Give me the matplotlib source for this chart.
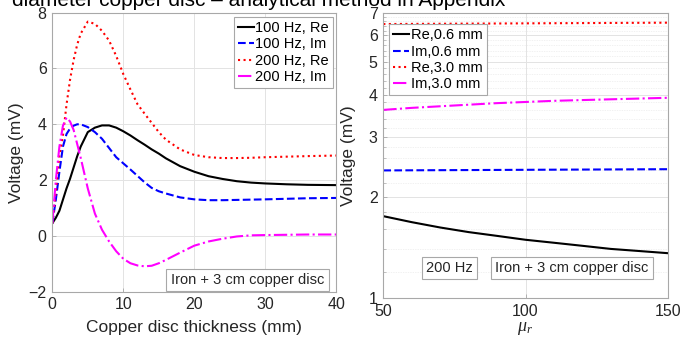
import numpy as np
import matplotlib
matplotlib.use('Agg')
from matplotlib import pyplot as plt
from matplotlib.ticker import FixedLocator, FixedFormatter, NullFormatter

plt.rcParams['font.family'] = ['Liberation Sans', 'DejaVu Sans']
plt.rcParams['mathtext.fontset'] = 'custom'
plt.rcParams['mathtext.it'] = 'Liberation Serif:italic'

# copper disc thickness sweep (mm)
thickness = [0, 0.5, 1, 1.5, 2, 2.5, 3, 3.5, 4, 5, 6, 7, 8, 9, 10, 11, 12, 13, 14,
             15, 16, 18, 20, 22, 24, 26, 28, 30, 33, 36, 40]
re_100 = [0.45, 0.65, 0.9, 1.3, 1.7, 2.05, 2.45, 2.85, 3.2, 3.72, 3.88, 3.96, 3.96, 3.88,
          3.75, 3.6, 3.43, 3.27, 3.1, 2.95, 2.78, 2.5, 2.3, 2.14, 2.04, 1.96, 1.91, 1.88,
          1.85, 1.83, 1.82]
im_100 = [0.45, 1.3, 2.3, 3.2, 3.65, 3.85, 3.95, 4.0, 4.0, 3.9, 3.72, 3.48, 3.15, 2.82,
          2.6, 2.38, 2.15, 1.92, 1.72, 1.6, 1.52, 1.38, 1.31, 1.28, 1.28, 1.29, 1.3, 1.31,
          1.33, 1.35, 1.36]
re_200 = [0.45, 1.6, 2.9, 3.6, 4.7, 5.6, 6.3, 6.85, 7.25, 7.68, 7.6, 7.35, 7.0, 6.45,
          5.8, 5.25, 4.72, 4.38, 4.05, 3.72, 3.45, 3.1, 2.9, 2.82, 2.79, 2.79, 2.8, 2.82,
          2.84, 2.86, 2.88]
im_200 = [0.45, 2.0, 3.2, 3.95, 4.24, 4.1, 3.8, 3.3, 2.8, 1.7, 0.8, 0.22, -0.2, -0.55,
          -0.82, -0.98, -1.06, -1.09, -1.07, -0.98, -0.86, -0.6, -0.35, -0.2, -0.1, -0.02,
          0.02, 0.03, 0.04, 0.05, 0.05]

# relative permeability sweep at 200 Hz
mu_r = [50, 60, 70, 80, 90, 100, 110, 120, 130, 140, 150]
re_06 = [1.75, 1.68, 1.62, 1.57, 1.53, 1.49, 1.46, 1.43, 1.40, 1.38, 1.36]
im_06 = [2.39, 2.392, 2.394, 2.396, 2.398, 2.40, 2.402, 2.404, 2.406, 2.408, 2.41]
re_30 = [6.48, 6.486, 6.492, 6.498, 6.504, 6.51, 6.516, 6.522, 6.528, 6.534, 6.54]
im_30 = [3.61, 3.66, 3.70, 3.74, 3.78, 3.81, 3.84, 3.86, 3.88, 3.90, 3.92]

left_labels = ['100 Hz, Re', '100 Hz, Im', '200 Hz, Re', '200 Hz, Im']
right_labels = ['Re,0.6 mm', 'Im,0.6 mm', 'Re,3.0 mm', 'Im,3.0 mm']

W, H = 693, 339
fig = plt.figure(figsize=(W / 100, H / 100), dpi=100)
txt = '#262626'
edge = '#a8a8a8'
grid = '#e3e3e3'
fs = 11.5
lfs = 12.5

def style(ax):
    for s in ax.spines.values():
        s.set_color(edge)
        s.set_linewidth(0.8)
    ax.tick_params(direction='in', length=3, width=0.6, color=edge,
                   labelcolor=txt, labelsize=fs, pad=4)
    ax.tick_params(which='minor', direction='in', length=2, width=0.5, color=edge)
    ax.set_axisbelow(True)

ax1 = fig.add_axes([52.3 / W, 1 - 291.7 / H, 284 / W, 279 / H])
lw = 1.5
ax1.plot(thickness, re_100, color='black', lw=lw, ls='-', label=left_labels[0])
ax1.plot(thickness, im_100, color='blue', lw=lw, ls='--', label=left_labels[1])
ax1.plot(thickness, re_200, color='red', lw=lw, ls=':', label=left_labels[2])
ax1.plot(thickness, im_200, color='magenta', lw=lw, ls='-.', label=left_labels[3])
ax1.set_xlim(0, 40)
ax1.set_ylim(-2, 8)
ax1.set_xticks([0, 10, 20, 30, 40])
ax1.set_yticks([-2, 0, 2, 4, 6, 8])
ax1.grid(True, color=grid, lw=0.7)
style(ax1)
ax1.set_xlabel('Copper disc thickness (mm)', fontsize=lfs, color=txt)
ax1.set_ylabel('Voltage (mV)', fontsize=lfs, color=txt)
ax1.xaxis.set_label_coords(0.5, -0.1)
ax1.yaxis.set_label_coords(-0.1, 0.5)
leg1 = ax1.legend(loc='upper right', bbox_to_anchor=(0.99, 0.985), borderaxespad=0,
                  fontsize=10.5, handlelength=1.1, handletextpad=0.1, labelspacing=0.15,
                  borderpad=0.3, fancybox=False, framealpha=1, edgecolor=edge)
leg1.get_frame().set_linewidth(0.8)

ax2 = fig.add_axes([383.3 / W, 1 - 298.3 / H, 284.4 / W, 285.6 / H])
ax2.plot(mu_r, re_06, color='black', lw=lw, ls='-', label=right_labels[0])
ax2.plot(mu_r, im_06, color='blue', lw=lw, ls='--', label=right_labels[1])
ax2.plot(mu_r, re_30, color='red', lw=lw, ls=':', label=right_labels[2])
ax2.plot(mu_r, im_30, color='magenta', lw=lw, ls='-.', label=right_labels[3])
ax2.set_yscale('log')
ax2.set_xlim(50, 150)
ax2.set_ylim(1, 7)
ax2.set_xticks([50, 100, 150])
ax2.yaxis.set_major_locator(FixedLocator([1, 2, 3, 4, 5, 6, 7]))
ax2.yaxis.set_major_formatter(FixedFormatter(['1', '2', '3', '4', '5', '6', '7']))
minor = [v for v in np.arange(1.2, 7.0, 0.2) if abs(v - round(v)) > 0.05]
ax2.yaxis.set_minor_locator(FixedLocator(minor))
ax2.yaxis.set_minor_formatter(NullFormatter())
ax2.grid(True, which='major', color=grid, lw=0.7)
ax2.grid(True, which='minor', axis='y', color='#ececec', lw=0.5, ls=(0, (2, 1.5)))
style(ax2)
ax2.set_xlabel(r'$\mu_r$', fontsize=lfs + 0.5, color=txt)
ax2.set_ylabel('Voltage (mV)', fontsize=lfs, color=txt)
ax2.xaxis.set_label_coords(0.5, -0.075)
ax2.yaxis.set_label_coords(-0.095, 0.5)
leg2 = ax2.legend(loc='upper left', bbox_to_anchor=(0.02, 0.96), borderaxespad=0,
                  fontsize=10.5, handlelength=1.1, handletextpad=0.1, labelspacing=0.15,
                  borderpad=0.3, fancybox=False, framealpha=1, edgecolor=edge)
leg2.get_frame().set_linewidth(0.8)

box = dict(boxstyle='square,pad=0.3', fc='white', ec=edge, lw=0.8)
fig.text(247.5 / W, 1 - 280 / H, 'Iron + 3 cm copper disc', fontsize=10.5, color=txt,
         ha='center', va='center', bbox=box)
fig.text(449.7 / W, 1 - 268 / H, '200 Hz', fontsize=10.5, color=txt,
         ha='center', va='center', bbox=box)
fig.text(571.7 / W, 1 - 268 / H, 'Iron + 3 cm copper disc', fontsize=10.5, color=txt,
         ha='center', va='center', bbox=box)

# caption line running off the top edge
fig.text(12 / W, 1 - 5.5 / H, 'diameter copper disc \u2013 analytical method in Appendix',
         fontsize=15, color='black', ha='left', va='baseline')

fig.savefig('out.png', dpi=100)
